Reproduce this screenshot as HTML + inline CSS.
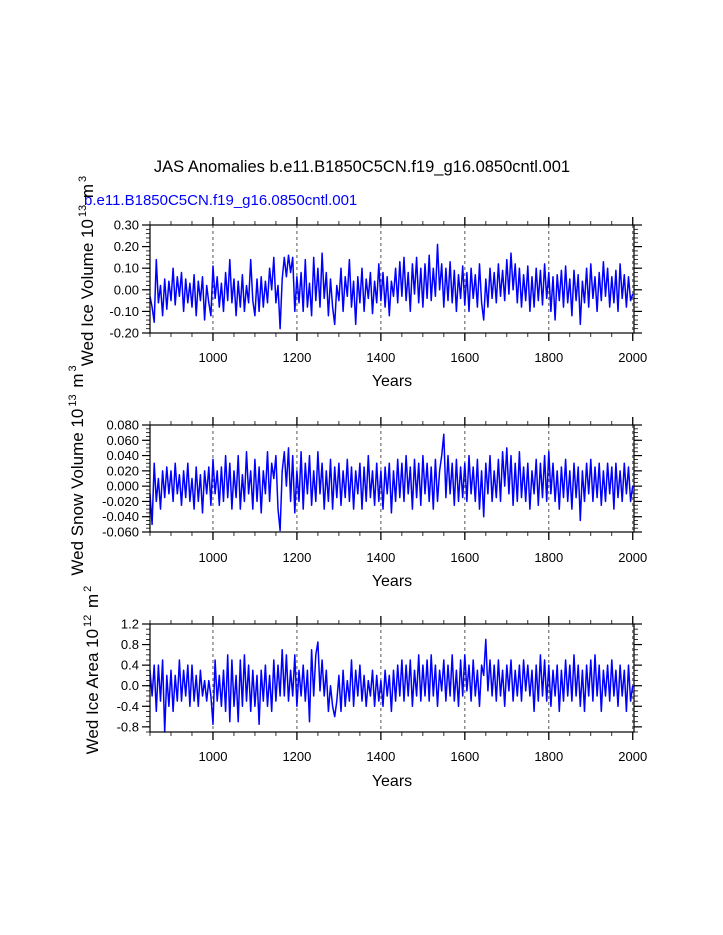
<!DOCTYPE html>
<html><head><meta charset="utf-8"><style>
body{margin:0;background:#fff}
svg{display:block;font-family:"Liberation Sans",sans-serif}
</style></head><body>
<svg id="chart" width="723" height="935" viewBox="0 0 723 935">
<text x="362" y="172" text-anchor="middle" font-size="16.5">JAS Anomalies b.e11.B1850C5CN.f19_g16.0850cntl.001</text>
<text x="84" y="205" font-size="15" fill="#0000ff">b.e11.B1850C5CN.f19_g16.0850cntl.001</text>
</svg>
<script>
const xStart = 850, xEnd = 2003, yearStep = 5;
const xTicks = [1000, 1200, 1400, 1600, 1800, 2000];
const iceVolume = [-0.03,-0.08,-0.15,0.14,-0.06,0.02,-0.12,0.05,-0.09,0.04,
-0.05,0.10,-0.07,0.06,-0.03,0.08,-0.10,0.05,-0.06,0.03,
-0.08,0.07,-0.12,0.04,-0.05,0.06,-0.14,0.02,-0.06,-0.12,
0.11,-0.04,0.06,-0.08,0.03,-0.10,0.08,-0.05,0.14,-0.06,
0.05,-0.12,0.04,-0.08,0.07,-0.10,0.02,-0.06,0.14,-0.05,
-0.12,0.05,-0.10,0.06,-0.08,0.04,-0.06,0.10,0.0,0.15,
-0.06,0.02,-0.18,0.05,0.15,0.06,0.16,0.08,0.15,-0.10,
0.06,-0.06,0.08,-0.10,0.14,-0.08,0.03,-0.12,0.15,-0.05,
0.10,-0.08,0.17,-0.04,0.08,-0.12,0.05,-0.08,-0.16,0.02,
-0.05,0.10,-0.10,0.06,-0.03,0.14,-0.08,0.04,-0.16,0.06,
-0.06,0.10,-0.10,0.05,-0.04,0.08,-0.11,0.04,-0.06,0.12,
-0.05,0.08,-0.08,0.06,-0.12,0.04,-0.03,0.10,-0.06,0.13,
-0.03,0.15,-0.05,0.08,-0.10,0.12,-0.02,0.15,-0.06,0.10,
-0.08,0.12,-0.04,0.16,-0.05,0.10,-0.03,0.21,0.00,0.12,
-0.08,0.10,-0.05,0.13,-0.06,0.09,-0.10,0.07,-0.04,0.11,
-0.07,0.08,-0.10,0.10,-0.04,0.07,-0.08,0.12,-0.06,-0.14,
0.05,-0.08,0.10,-0.04,0.08,-0.06,0.12,-0.03,0.09,-0.05,
0.14,-0.02,0.17,0.00,0.12,-0.06,0.10,-0.08,0.07,-0.05,
0.11,-0.10,0.06,-0.08,0.10,-0.05,0.09,-0.07,0.12,-0.04,
0.08,-0.10,0.06,-0.14,0.07,-0.05,0.09,-0.08,0.11,-0.06,
0.05,-0.12,0.09,-0.05,0.07,-0.16,0.04,-0.06,0.10,-0.08,
0.12,-0.04,0.06,-0.10,0.08,-0.05,0.13,-0.03,0.10,-0.08,
0.06,-0.06,0.09,-0.10,0.12,-0.04,0.07,-0.08,0.06,-0.05,-0.02];
const snowVolume = [-0.01,-0.05,0.03,-0.02,0.01,-0.03,0.02,-0.015,0.025,-0.01,
0.02,-0.02,0.03,-0.01,0.015,-0.025,0.02,-0.015,0.03,-0.02,
0.01,-0.03,0.025,-0.02,0.015,-0.035,0.02,-0.01,0.025,-0.025,
0.035,-0.01,0.02,-0.025,0.025,-0.02,0.04,-0.015,0.03,-0.03,
0.02,-0.015,0.04,-0.03,0.015,-0.02,0.045,-0.01,0.02,-0.03,
0.035,-0.02,0.025,-0.035,0.02,-0.01,0.045,-0.02,0.03,0.01,
0.04,-0.03,-0.058,0.02,0.045,0.0,0.05,-0.02,0.04,-0.035,
0.02,-0.02,0.045,-0.03,0.03,-0.01,0.04,-0.025,0.02,-0.02,
0.045,-0.01,0.03,-0.03,0.02,-0.02,0.035,-0.03,0.025,-0.015,
0.03,-0.025,0.02,-0.015,0.035,-0.02,0.025,-0.03,0.02,-0.01,
0.03,-0.03,0.025,-0.02,0.04,-0.015,0.02,-0.025,0.03,-0.02,
0.02,-0.03,0.025,-0.01,0.03,-0.035,0.02,-0.02,0.035,-0.015,
0.03,-0.02,0.04,-0.01,0.025,-0.03,0.035,-0.015,0.03,-0.025,
0.04,-0.01,0.03,-0.02,0.025,-0.03,0.035,-0.02,0.02,0.04,
0.068,-0.015,0.04,-0.01,0.03,-0.025,0.035,-0.02,0.025,-0.015,
0.03,-0.02,0.04,-0.01,0.025,-0.02,0.035,-0.03,0.02,-0.04,
0.03,-0.01,0.04,-0.02,0.02,-0.015,0.035,-0.02,0.045,0.0,
0.05,-0.01,0.04,-0.025,0.03,-0.02,0.045,-0.015,0.025,-0.02,
0.03,-0.03,0.02,-0.01,0.035,-0.025,0.03,-0.015,0.04,-0.02,
0.045,-0.01,0.03,-0.02,0.02,-0.03,0.025,-0.015,0.035,-0.02,
0.02,-0.03,0.03,-0.015,0.025,-0.045,0.02,-0.02,0.03,-0.01,
0.035,-0.02,0.025,-0.015,0.03,-0.025,0.02,-0.02,0.03,-0.01,
0.025,-0.03,0.03,-0.015,0.02,-0.02,0.03,-0.01,0.025,-0.02,0.0];
const iceArea = [0.3,-0.2,0.4,-0.5,0.4,-0.3,0.5,-0.9,0.2,-0.4,
0.3,-0.5,0.2,-0.3,0.5,-0.3,0.3,-0.2,0.4,-0.4,
0.4,-0.3,0.2,-0.4,0.3,-0.2,0.1,-0.3,0.1,-0.2,
-0.75,0.5,-0.3,0.2,-0.4,0.3,-0.5,0.6,-0.7,0.5,
-0.4,0.2,-0.7,0.5,-0.4,0.6,-0.3,0.4,-0.5,0.3,
-0.4,0.2,-0.75,0.3,-0.3,0.4,-0.4,0.2,-0.5,0.5,
-0.3,0.4,-0.2,0.7,-0.2,0.6,-0.3,0.3,-0.2,0.6,
-0.4,0.3,-0.2,0.4,-0.3,0.3,-0.7,0.7,-0.2,0.6,
0.85,-0.1,0.5,-0.2,0.3,-0.5,0.0,-0.4,-0.6,-0.3,
0.2,-0.5,0.3,-0.4,0.1,-0.3,0.5,-0.4,0.3,-0.2,
0.4,-0.3,0.2,-0.4,0.1,-0.2,0.3,-0.4,0.2,-0.3,
0.1,-0.4,0.3,-0.2,0.2,-0.5,0.3,-0.3,0.4,-0.2,
0.5,-0.3,0.4,-0.2,0.5,-0.4,0.3,-0.2,0.6,-0.3,
0.4,-0.2,0.5,-0.3,0.6,-0.2,0.4,-0.4,0.3,-0.1,
0.5,-0.3,0.4,-0.2,0.6,-0.3,0.3,-0.4,0.5,-0.2,
0.6,-0.1,0.4,-0.3,0.5,-0.2,0.3,-0.4,0.4,0.2,
0.9,-0.1,0.5,-0.2,0.4,-0.3,0.5,-0.2,0.3,-0.4,
0.4,-0.1,0.5,-0.3,0.3,-0.2,0.4,-0.3,0.5,-0.1,
0.4,-0.2,0.3,-0.5,0.4,-0.3,0.6,-0.2,0.5,-0.3,
0.4,-0.4,0.3,-0.2,0.4,-0.5,0.3,-0.3,0.5,-0.2,
0.4,-0.3,0.6,-0.2,0.4,-0.4,0.3,-0.5,0.4,-0.2,
0.5,-0.3,0.6,-0.2,0.4,-0.5,0.3,-0.2,0.4,-0.3,
0.5,-0.2,0.3,-0.4,0.4,-0.2,0.3,-0.5,0.4,-0.3,0.0];
const panels = [
 {name:'ice-volume', data:iceVolume, top:225, bottom:333, ymin:-0.2, ymax:0.3, ticks:[0.3,0.2,0.1,0.0,-0.1,-0.2], dec:2, minor:0.02, label:['Wed Ice Volume 10','13',' m','3'], lx:93, xlabelY:362, titleY:386},
 {name:'snow-volume', data:snowVolume, top:425, bottom:532, ymin:-0.06, ymax:0.08, ticks:[0.08,0.06,0.04,0.02,0.0,-0.02,-0.04,-0.06], dec:3, minor:0.005, label:['Wed Snow Volume 10','13',' m','3'], lx:83, xlabelY:562, titleY:586},
 {name:'ice-area', data:iceArea, top:624, bottom:732, ymin:-0.9, ymax:1.2, ticks:[1.2,0.8,0.4,0.0,-0.4,-0.8], dec:1, minor:0.1, label:['Wed Ice Area 10','12',' m','2'], lx:98, xlabelY:761, titleY:786}
];
const L=150, R=634;
const svg=document.getElementById('chart');
const NS='http://www.w3.org/2000/svg';
function mk(t,a,p){const e=document.createElementNS(NS,t);for(const k in a)e.setAttribute(k,a[k]);(p||svg).appendChild(e);return e;}
const xs=v=>L+(v-xStart)/(xEnd-xStart)*(R-L);
panels.forEach(p=>{
 const ys=v=>p.bottom-(v-p.ymin)/(p.ymax-p.ymin)*(p.bottom-p.top);
 const g=mk('g',{});
 
 
 xTicks.forEach(t=>{const l=mk('line',{x1:xs(t),x2:xs(t),y1:p.top,y2:p.bottom,stroke:'#555','stroke-width':1,'stroke-dasharray':'3,3'},g);
  
  });
 const pts=p.data.map((v,i)=>xs(xStart+i*yearStep).toFixed(1)+','+ys(v).toFixed(1)).join(' ');
 const pl=mk('polyline',{points:pts,fill:'none',stroke:'#0000ff','stroke-width':1.5,'stroke-linejoin':'round'},g);
 
 
 const fr=mk('rect',{x:L,y:p.top,width:R-L,height:p.bottom-p.top,fill:'none',stroke:'#000','stroke-width':1.2},g);
 
 
 for(let t=850;t<=2000;t+=50){const maj=t%200===0;const len=maj?8:4;
  mk('line',{x1:xs(t),x2:xs(t),y1:p.bottom,y2:p.bottom+len,stroke:'#000','stroke-width':maj?1.3:0.8},g);
  mk('line',{x1:xs(t),x2:xs(t),y1:p.top,y2:p.top-len,stroke:'#000','stroke-width':maj?1.3:0.8},g);}
 xTicks.forEach(t=>{const tx=mk('text',{x:xs(t),y:p.xlabelY,'text-anchor':'middle','font-size':13},g);tx.textContent=t;
  
  });
 const nm=Math.round((p.ymax-p.ymin)/p.minor);
 for(let i=0;i<=nm;i++){const v=p.ymin+i*p.minor;const y=ys(v);
  mk('line',{x1:L,x2:L-4,y1:y,y2:y,stroke:'#000','stroke-width':0.8},g);
  mk('line',{x1:R,x2:R+4,y1:y,y2:y,stroke:'#000','stroke-width':0.8},g);}
 p.ticks.forEach(v=>{const y=ys(v);
  mk('line',{x1:L,x2:L-8,y1:y,y2:y,stroke:'#000','stroke-width':1.2},g);
  mk('line',{x1:R,x2:R+8,y1:y,y2:y,stroke:'#000','stroke-width':1.2},g);
  const tx=mk('text',{x:L-11,y:y+4.5,'text-anchor':'end','font-size':13},g);tx.textContent=v.toFixed(p.dec);
  
  });
 const xt=mk('text',{x:(L+R)/2,y:p.titleY,'text-anchor':'middle','font-size':16},g);xt.textContent='Years';
 
 
 const cy=(p.top+p.bottom)/2-8;
 const yt=mk('text',{x:0,y:0,'text-anchor':'middle','font-size':17,transform:`translate(${p.lx},${cy}) rotate(-90)`},g);
 
 
 p.label.forEach((s,i)=>{const ts=mk('tspan',{},yt);ts.textContent=s;if(i%2){ts.setAttribute('font-size',11);ts.setAttribute('dy',-7);ts.setAttribute('dx',2);}else if(i>0){ts.setAttribute('dy',7);ts.setAttribute('dx',2);}});
});
</script>
</body></html>
